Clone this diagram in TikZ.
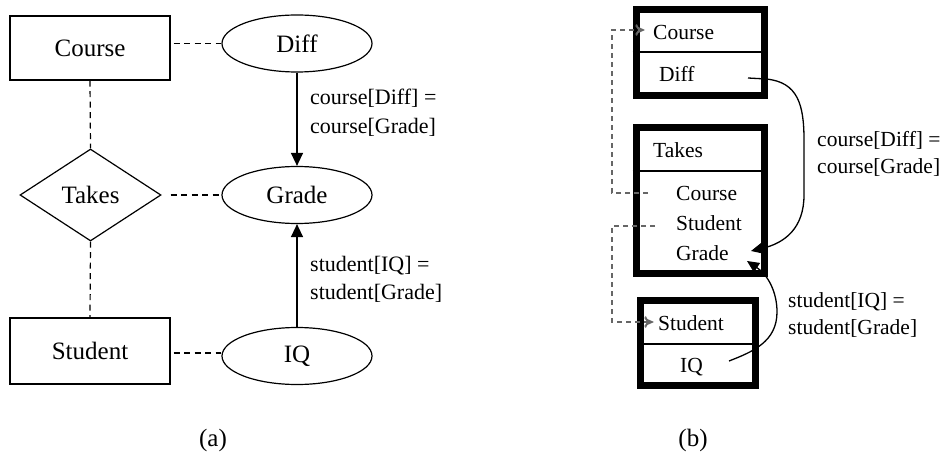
\documentclass[tikz,border=0pt]{standalone}
\usepackage{fontspec}
\setmainfont{Liberation Serif}
\usetikzlibrary{shapes.geometric,arrows.meta}
\begin{document}
\begin{tikzpicture}[x=1pt,y=-1pt,
  ent/.style={draw,line width=1.2pt,rectangle,minimum width=160pt,inner sep=0pt,font=\fontsize{25}{28}\selectfont},
  attr/.style={draw,line width=1.2pt,ellipse,minimum width=150pt,minimum height=57pt,inner sep=0pt,font=\fontsize{25}{28}\selectfont},
  rel/.style={draw,line width=1.2pt,diamond,aspect=1.53,minimum width=141pt,minimum height=92pt,inner sep=0pt,font=\fontsize{25}{28}\selectfont},
  dsh/.style={dash pattern=on 6pt off 4.5pt,line width=1.2pt},
  dep/.style={line width=1.3pt,-{Triangle[length=13pt,width=12pt]}},
  lbl/.style={anchor=west,align=left,inner sep=0pt,font=\fontsize{22}{28.5}\selectfont},
  tbl/.style={draw,line width=7pt,rectangle,inner sep=0pt},
  txt/.style={anchor=west,inner sep=0pt,font=\fontsize{21.5}{26}\selectfont},
  lblb/.style={anchor=west,align=left,inner sep=0pt,font=\fontsize{21.5}{27}\selectfont},
  sl/.style={dash pattern=on 5pt off 4pt,line width=1.2pt,black!60,-{Straight Barb[length=3pt,width=11pt,sep=-5pt]Stealth[length=10pt,width=9pt]}},
  crv/.style={line width=1.3pt,-{Triangle[length=12pt,width=11pt]}},
  captxt/.style={inner sep=0pt,font=\fontsize{25}{28}\selectfont}
]
\useasboundingbox (0,0) rectangle (941,454);
% ---------- (a) ----------
\node[ent,minimum height=64pt] (Course) at (90,48) {Course};
\node[ent,minimum height=66pt] (Student) at (90,351) {Student};
\node[rel] (Takes) at (90.5,195) {Takes};
\node[attr] (Diff) at (297,43.5) {Diff};
\node[attr] (Grade) at (297,195) {Grade};
\node[attr] (IQ) at (297,356) {IQ};
\draw[dsh] (Course.east |- Diff.west) ++(3,0) -- (Diff.west);
\draw[dsh] (Takes.east) ++(9,0) -- (Grade.west);
\draw[dsh] (Student.east) ++(3,2) -- (IQ.west |- 0,353);
\draw[dsh] (Course.south) -- (Takes.north);
\draw[dsh] (Takes.south) -- (Student.north);
\draw[dep] (Diff.south) -- (Grade.north);
\draw[dep] (IQ.north) -- (Grade.south);
\node[lbl] (la1) at (310,112.5) {course[Diff] =\\course[Grade]};
\node[lbl] (la2) at (310,279.5) {student[IQ] =\\student[Grade]};
\node[captxt] (capa) at (213,440) {(a)};
% ---------- (b) ----------
\node[tbl,minimum width=128.5pt,minimum height=86pt] (CourseB) at (700.25,52.5) {};
\node[tbl,minimum width=128.5pt,minimum height=145pt] (TakesB) at (700.25,200.5) {};
\node[tbl,minimum width=115pt,minimum height=85pt] (StudentB) at (698,343) {};
\draw[line width=1.3pt] (CourseB.west |- 0,52) -- (CourseB.east |- 0,52);
\draw[line width=1.3pt] (TakesB.west |- 0,171) -- (TakesB.east |- 0,171);
\draw[line width=1.3pt] (StudentB.west |- 0,344) -- (StudentB.east |- 0,344);
\node[txt] (tC) at (653,32) {Course};
\node[txt] (tD) at (659,74) {Diff};
\node[txt] (tT) at (653,150) {Takes};
\node[txt] (tTC) at (676,193) {Course};
\node[txt] (tTS) at (676,223) {Student};
\node[txt] (tTG) at (676,253) {Grade};
\node[txt] (tS) at (658,323) {Student};
\node[txt] (tI) at (680,367) {IQ};
\coordinate (c1) at (648,193);
\coordinate (c2) at (655,226);
\coordinate (diffout) at (748,78);
\coordinate (gin1) at (751,251);
\coordinate (iqout) at (729,361);
\coordinate (gin2) at (747,261);
\coordinate (ct) at (645,30);
\coordinate (st) at (654,322);
\draw[sl] (c1) -- (612,193) |- (ct);
\draw[sl] (c2) -- (612,226) |- (st);
\draw[crv] (diffout) -- (766,79) .. controls (798,82) and (804,105) .. (804,140) -- (804,195) .. controls (804,228) and (785,243) .. (gin1);
\draw[crv] (iqout) .. controls (752,352) and (777,342) .. (777,312) .. controls (777,292) and (768,275) .. (gin2);
\node[lblb] (lb1) at (817,154) {course[Diff] =\\course[Grade]};
\node[lblb] (lb2) at (788,314.5) {student[IQ] =\\student[Grade]};
\node[captxt] (capb) at (693,440) {(b)};
\end{tikzpicture}
\end{document}
